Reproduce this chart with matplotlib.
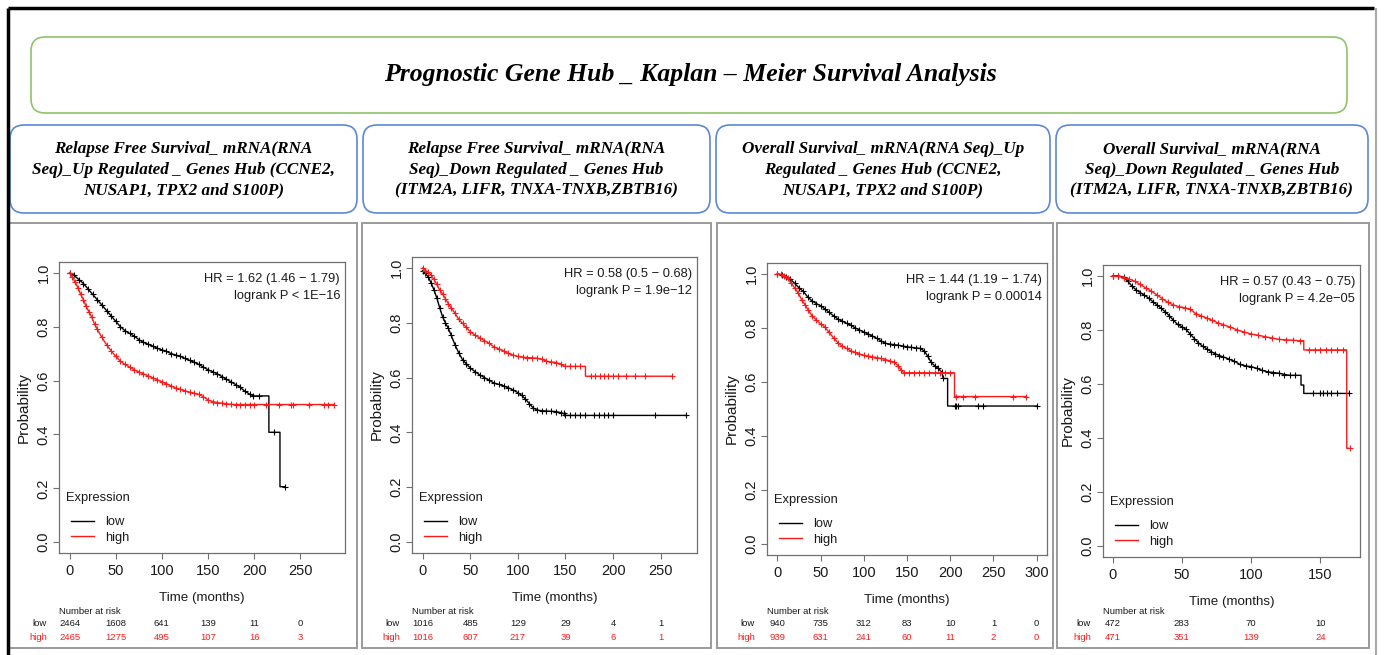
import numpy as np
import matplotlib
matplotlib.use("Agg")
import matplotlib.pyplot as plt
from matplotlib.patches import FancyBboxPatch, Rectangle
from matplotlib.lines import Line2D
import matplotlib.transforms as mtransforms

W, H = 1384, 655
SERIF = "Liberation Serif"
SANS = "Liberation Sans"

title = "Prognostic Gene Hub _ Kaplan \u2013 Meier Survival Analysis"
subtitles = [
    "Relapse Free Survival_ mRNA(RNA\nSeq)_Up Regulated _ Genes Hub (CCNE2,\nNUSAP1, TPX2 and S100P)",
    "Relapse Free Survival_ mRNA(RNA\nSeq)_Down Regulated _ Genes Hub\n(ITM2A, LIFR, TNXA-TNXB,ZBTB16)",
    "Overall Survival_ mRNA(RNA Seq)_Up\nRegulated _ Genes Hub (CCNE2,\nNUSAP1, TPX2 and S100P)",
    "Overall Survival_ mRNA(RNA\nSeq)_Down Regulated _ Genes Hub\n(ITM2A, LIFR, TNXA-TNXB,ZBTB16)",
]

# --- Panel 1: RFS, up regulated hub
rfs_up_low_t = [0, 5, 10, 15, 20, 25, 30, 35, 40, 45, 50, 55, 60, 65, 70, 75, 80, 85, 90, 95,
                100, 105, 110, 115, 120, 125, 130, 135, 140, 145, 150, 155, 160, 165, 170, 175,
                180, 185, 190, 195, 199, 205, 216, 216, 222, 228, 228, 233]
rfs_up_low_s = [1.0, 0.99, 0.975, 0.96, 0.94, 0.92, 0.90, 0.88, 0.86, 0.84, 0.82, 0.80, 0.785,
                0.775, 0.765, 0.752, 0.742, 0.735, 0.728, 0.72, 0.714, 0.708, 0.70, 0.695, 0.69,
                0.682, 0.675, 0.668, 0.66, 0.65, 0.64, 0.633, 0.625, 0.615, 0.605, 0.595, 0.585,
                0.575, 0.56, 0.55, 0.543, 0.543, 0.543, 0.408, 0.408, 0.408, 0.206, 0.206]
rfs_up_high_t = [0, 3, 6, 9, 12, 15, 18, 21, 24, 27, 30, 35, 40, 45, 50, 55, 60, 65, 70, 75, 80,
                 85, 90, 95, 100, 105, 110, 115, 120, 125, 130, 135, 140, 145, 150, 155, 160, 165,
                 170, 175, 180, 185, 190, 195, 200, 213, 227, 240, 242, 260, 276, 280, 287]
rfs_up_high_s = [1.0, 0.985, 0.965, 0.945, 0.92, 0.90, 0.875, 0.855, 0.835, 0.81, 0.79, 0.76,
                 0.733, 0.71, 0.69, 0.672, 0.66, 0.65, 0.64, 0.632, 0.625, 0.618, 0.61, 0.603,
                 0.595, 0.588, 0.58, 0.572, 0.567, 0.562, 0.557, 0.552, 0.549, 0.54, 0.528, 0.522,
                 0.518, 0.516, 0.514, 0.512, 0.511, 0.511, 0.511, 0.511, 0.511, 0.511, 0.511,
                 0.511, 0.511, 0.511, 0.511, 0.511, 0.511]

# --- Panel 2: RFS, down regulated hub
rfs_down_low_t = [0, 3, 6, 9, 12, 15, 18, 21, 24, 27, 30, 34, 38, 42, 46, 50, 55, 60, 65, 70, 75,
                  80, 85, 90, 95, 100, 104, 108, 112, 116, 120, 125, 130, 135, 140, 145, 148, 150,
                  155, 160, 165, 170, 180, 185, 190, 195, 200, 244, 277]
rfs_down_low_s = [0.99, 0.98, 0.967, 0.945, 0.92, 0.89, 0.855, 0.822, 0.80, 0.78, 0.755, 0.72,
                  0.69, 0.665, 0.65, 0.635, 0.622, 0.61, 0.60, 0.59, 0.58, 0.575, 0.57, 0.563,
                  0.555, 0.545, 0.535, 0.522, 0.505, 0.49, 0.482, 0.479, 0.478, 0.477, 0.476,
                  0.472, 0.469, 0.462, 0.462, 0.462, 0.462, 0.462, 0.462, 0.462, 0.462, 0.462,
                  0.462, 0.462, 0.462]
rfs_down_high_t = [0, 3, 6, 9, 12, 15, 18, 21, 24, 27, 30, 34, 38, 42, 46, 50, 55, 60, 65, 70,
                   75, 80, 85, 90, 95, 100, 105, 110, 115, 120, 125, 130, 135, 140, 145, 149, 155,
                   160, 165, 171, 171, 177, 181, 186, 190, 195, 200, 205, 214, 223, 233, 262]
rfs_down_high_s = [1.0, 0.99, 0.985, 0.973, 0.958, 0.94, 0.92, 0.905, 0.888, 0.87, 0.855, 0.835,
                   0.812, 0.798, 0.783, 0.768, 0.755, 0.745, 0.735, 0.725, 0.712, 0.705, 0.697,
                   0.688, 0.682, 0.677, 0.675, 0.673, 0.672, 0.671, 0.667, 0.66, 0.657, 0.655,
                   0.65, 0.641, 0.641, 0.641, 0.641, 0.641, 0.605, 0.605, 0.605, 0.605, 0.605,
                   0.605, 0.605, 0.605, 0.605, 0.605, 0.605, 0.605]

# --- Panel 3: OS, up regulated hub
os_up_low_t = [0, 5, 10, 15, 20, 25, 30, 35, 40, 45, 50, 55, 60, 65, 70, 75, 80, 85, 90, 95, 100,
               105, 110, 115, 120, 125, 130, 135, 140, 145, 150, 155, 160, 165, 170, 174, 178,
               182, 186, 190, 192, 197, 197, 205, 207, 209, 232, 238, 300]
os_up_low_s = [1.0, 0.995, 0.99, 0.98, 0.965, 0.948, 0.935, 0.915, 0.90, 0.89, 0.882, 0.87,
               0.857, 0.845, 0.833, 0.825, 0.817, 0.81, 0.80, 0.792, 0.785, 0.777, 0.77, 0.761,
               0.752, 0.743, 0.74, 0.738, 0.736, 0.733, 0.73, 0.728, 0.726, 0.724, 0.715, 0.695,
               0.672, 0.66, 0.65, 0.638, 0.613, 0.613, 0.511, 0.511, 0.511, 0.511, 0.511, 0.511,
               0.511]
os_up_high_t = [0, 4, 8, 12, 16, 20, 24, 28, 32, 36, 40, 45, 50, 55, 60, 65, 70, 75, 80, 85, 90,
                95, 100, 105, 110, 115, 120, 125, 130, 135, 140, 143, 146, 152, 158, 164, 170,
                176, 182, 188, 194, 200, 205, 205, 207, 215, 229, 273, 288]
os_up_high_s = [1.0, 0.998, 0.992, 0.983, 0.965, 0.948, 0.93, 0.905, 0.885, 0.865, 0.845, 0.83,
                0.815, 0.803, 0.783, 0.763, 0.745, 0.733, 0.724, 0.715, 0.709, 0.703, 0.699,
                0.696, 0.693, 0.69, 0.687, 0.683, 0.678, 0.673, 0.66, 0.645, 0.634, 0.634, 0.634,
                0.634, 0.634, 0.634, 0.634, 0.634, 0.634, 0.634, 0.634, 0.546, 0.546, 0.546,
                0.546, 0.546, 0.546]

# --- Panel 4: OS, down regulated hub
os_down_low_t = [0, 4, 8, 11, 14, 17, 20, 23, 26, 29, 32, 35, 38, 41, 44, 47, 50, 53, 56, 59,
                 62, 65, 68, 71, 74, 77, 80, 84, 88, 92, 96, 100, 104, 108, 112, 116, 120, 124,
                 128, 132, 136, 136, 138, 138, 145, 150, 152, 155, 158, 162, 170.5]
os_down_low_s = [1.0, 1.0, 0.995, 0.98, 0.962, 0.948, 0.938, 0.928, 0.918, 0.905, 0.893, 0.88,
                 0.867, 0.852, 0.835, 0.82, 0.812, 0.802, 0.785, 0.768, 0.752, 0.74, 0.73, 0.72,
                 0.712, 0.705, 0.70, 0.692, 0.684, 0.672, 0.667, 0.664, 0.658, 0.65, 0.645, 0.642,
                 0.64, 0.635, 0.632, 0.632, 0.632, 0.596, 0.596, 0.565, 0.565, 0.565, 0.565,
                 0.565, 0.565, 0.565, 0.565]
os_down_high_t = [0, 4, 8, 12, 16, 20, 24, 28, 32, 36, 40, 44, 48, 52, 56, 60, 64, 68, 72, 76,
                  80, 85, 90, 95, 100, 105, 110, 115, 120, 125, 130, 135, 138, 138, 142, 146,
                  150, 154, 158, 162, 166, 169, 169, 171.7]
os_down_high_s = [1.0, 0.998, 0.993, 0.988, 0.98, 0.968, 0.955, 0.943, 0.93, 0.915, 0.902,
                  0.892, 0.886, 0.882, 0.877, 0.86, 0.852, 0.844, 0.835, 0.826, 0.819, 0.81,
                  0.80, 0.792, 0.785, 0.78, 0.775, 0.77, 0.765, 0.763, 0.762, 0.76, 0.76, 0.726,
                  0.726, 0.726, 0.726, 0.726, 0.726, 0.726, 0.726, 0.726, 0.362, 0.362]

# number at risk
risk_times_250 = [0, 50, 100, 150, 200, 250]
risk_times_300 = [0, 50, 100, 150, 200, 250, 300]
risk_times_150 = [0, 50, 100, 150]
rfs_up_risk_low = [2464, 1608, 641, 139, 11, 0]
rfs_up_risk_high = [2465, 1275, 495, 107, 16, 3]
rfs_down_risk_low = [1016, 485, 129, 29, 4, 1]
rfs_down_risk_high = [1016, 607, 217, 39, 6, 1]
os_up_risk_low = [940, 735, 312, 83, 10, 1, 0]
os_up_risk_high = [939, 631, 241, 60, 11, 2, 0]
os_down_risk_low = [472, 283, 70, 10]
os_down_risk_high = [471, 351, 139, 24]

hr_texts = [
    "HR = 1.62 (1.46 \u2212 1.79)\nlogrank P < 1E\u221216",
    "HR = 0.58 (0.5 \u2212 0.68)\nlogrank P = 1.9e\u221212",
    "HR = 1.44 (1.19 \u2212 1.74)\nlogrank P = 0.00014",
    "HR = 0.57 (0.43 \u2212 0.75)\nlogrank P = 4.2e\u221205",
]

RED = "#ff1a1a"
TXT = "#1a1a1a"


def rect(l, t, r, b):
    return [l / W, 1 - b / H, (r - l) / W, (b - t) / H]


def km_line(ax, t, s, color):
    t = np.asarray(t, float)
    s = np.asarray(s, float)
    assert len(t) == len(s)
    ax.plot(t, s, color=color, lw=1.0, zorder=3)
    # censor marks on every vertex that is not part of a vertical drop
    drop = np.zeros(len(t), bool)
    drop[1:] |= t[1:] == t[:-1]
    drop[:-1] |= t[:-1] == t[1:]
    ax.plot(t[~drop], s[~drop], "+", color=color, ms=5, mew=0.8, zorder=3)


def panel(box, low, high, ticks, risk_low, risk_high, hr):
    l, t, r, b = box
    ax = fig.add_axes(rect(l, t, r, b))
    tmax = max(max(low[0]), max(high[0]))
    ax.set_xlim(-0.04 * tmax, 1.04 * tmax)
    ax.set_ylim(-0.04, 1.04)
    km_line(ax, low[0], low[1], "black")
    km_line(ax, high[0], high[1], RED)

    for sp in ax.spines.values():
        sp.set_color("#707070")
        sp.set_linewidth(0.9)
    ax.tick_params(direction="out", length=4.5, width=0.8, color="#707070",
                   labelcolor=TXT)
    ax.tick_params(axis="x", pad=3.5)
    ax.set_xticks(ticks)
    ax.set_xticklabels([str(v) for v in ticks], fontfamily=SANS, fontsize=10.5)
    yt = [0, 0.2, 0.4, 0.6, 0.8, 1.0]
    ax.set_yticks(yt)
    ax.set_yticklabels([f"{v:.1f}" for v in yt], rotation=90, va="center",
                       fontfamily=SANS, fontsize=10.5)
    ax.tick_params(axis="y", pad=1.5)

    hpx, wpx = b - t, r - l
    ax.set_ylabel("Probability", fontfamily=SANS, fontsize=11, color=TXT)
    ax.yaxis.set_label_coords((31 - 59) / wpx, 0.5)
    ax.set_xlabel("Time (months)", fontfamily=SANS, fontsize=9.6, color=TXT)
    ax.xaxis.set_label_coords(0.5, -(592 - 553) / hpx)

    ax.text(1 - 5 / wpx, 1 - 11 / hpx, hr, transform=ax.transAxes, ha="right", va="top",
            fontfamily=SANS, fontsize=9.3, linespacing=1.6, color=TXT)

    # legend: title drawn separately to get R's spacing
    ax.text(7 / wpx, 55 / hpx, "Expression", transform=ax.transAxes, ha="left",
            va="center", fontfamily=SANS, fontsize=9.3, color=TXT)
    handles = [Line2D([], [], color="black", lw=1.0), Line2D([], [], color=RED, lw=1.0)]
    leg = ax.legend(handles, ["low", "high"], loc="lower left",
                    bbox_to_anchor=(12 / wpx, 9 / hpx), frameon=False, borderpad=0,
                    borderaxespad=0, handlelength=1.75, handletextpad=0.9,
                    labelspacing=0.3, prop={"family": SANS, "size": 9.3})
    for txt in leg.get_texts():
        txt.set_color(TXT)

    # number at risk table
    tr = mtransforms.blended_transform_factory(ax.transData, fig.transFigure)
    fig.text(l / W, 1 - 611 / H, "Number at risk", fontfamily=SANS, fontsize=6.8,
             va="center", ha="left", color=TXT)
    fig.text((l - 12) / W, 1 - 624 / H, "low", fontfamily=SANS, fontsize=6.8,
             va="center", ha="right", color=TXT)
    fig.text((l - 12) / W, 1 - 637 / H, "high", fontfamily=SANS, fontsize=6.8,
             va="center", ha="right", color=RED)
    for x, nl, nh in zip(ticks, risk_low, risk_high):
        ax.text(x, 1 - 624 / H, str(nl), transform=tr, ha="center", va="center",
                fontfamily=SANS, fontsize=6.8, color=TXT, clip_on=False)
        ax.text(x, 1 - 637 / H, str(nh), transform=tr, ha="center", va="center",
                fontfamily=SANS, fontsize=6.8, color=RED, clip_on=False)
    return ax


fig = plt.figure(figsize=(W / 100, H / 100), dpi=100)
fig.patch.set_facecolor("white")

bg = fig.add_axes([0, 0, 1, 1])
bg.set_xlim(0, W)
bg.set_ylim(H, 0)
bg.axis("off")

# outer frame
bg.plot([8, 1374], [8, 8], color="black", lw=2.5, solid_capstyle="butt")
bg.plot([8, 8], [8, H], color="black", lw=2.5, solid_capstyle="butt")
bg.plot([1376, 1376], [9, H], color="#a8a8a8", lw=1.5)

# title box
bg.add_patch(FancyBboxPatch((31, 37), 1316, 76, boxstyle="round,pad=0,rounding_size=14",
                            fc="white", ec="#8fc46a", lw=1.2))
bg.text(690, 75, title, ha="center", va="center", fontfamily=SERIF, fontsize=18.5,
        fontweight="bold", fontstyle="italic")

# subtitle boxes
sub_boxes = [(10, 357), (363, 710), (716, 1050), (1056, 1368)]
for (x0, x1), txt in zip(sub_boxes, subtitles):
    bg.add_patch(FancyBboxPatch((x0, 125), x1 - x0, 88,
                                boxstyle="round,pad=0,rounding_size=14",
                                fc="white", ec="#5b88d8", lw=1.2))
    bg.text((x0 + x1) / 2, 170, txt, ha="center", va="center", fontfamily=SERIF,
            fontsize=12.3, fontweight="bold", fontstyle="italic", linespacing=1.4)

# panel frames
frames = [(9, 357), (362, 711), (717, 1053), (1057, 1369)]
for x0, x1 in frames:
    bg.add_patch(Rectangle((x0, 223), x1 - x0, 425, fc="white", ec="#9a9a9a", lw=1.4))

panel((59, 262, 345, 553), (rfs_up_low_t, rfs_up_low_s), (rfs_up_high_t, rfs_up_high_s),
      risk_times_250, rfs_up_risk_low, rfs_up_risk_high, hr_texts[0])
panel((412, 257, 697, 553), (rfs_down_low_t, rfs_down_low_s),
      (rfs_down_high_t, rfs_down_high_s),
      risk_times_250, rfs_down_risk_low, rfs_down_risk_high, hr_texts[1])
panel((767, 263, 1047, 555), (os_up_low_t, os_up_low_s), (os_up_high_t, os_up_high_s),
      risk_times_300, os_up_risk_low, os_up_risk_high, hr_texts[2])
panel((1103, 265, 1360, 557), (os_down_low_t, os_down_low_s),
      (os_down_high_t, os_down_high_s),
      risk_times_150, os_down_risk_low, os_down_risk_high, hr_texts[3])

fig.savefig("out.png", dpi=100)
